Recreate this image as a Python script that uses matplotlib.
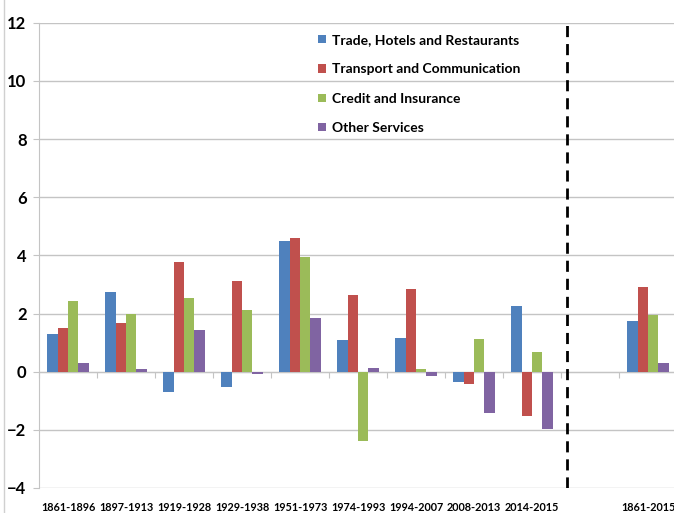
import numpy as np
import matplotlib
matplotlib.use('Agg')
import matplotlib.pyplot as plt
from matplotlib.lines import Line2D

plt.rcParams['font.family'] = ['Lato', 'DejaVu Sans']
plt.rcParams['font.weight'] = 'bold'

# periods (empty slot before the whole-period group)
periods = ['1861-1896', '1897-1913', '1919-1928', '1929-1938', '1951-1973',
           '1974-1993', '1994-2007', '2008-2013', '2014-2015', '', '1861-2015']
nan = np.nan
trade = [1.28, 2.73, -0.70, -0.53, 4.50, 1.10, 1.17, -0.35, 2.26, nan, 1.74]
transport = [1.49, 1.67, 3.76, 3.13, 4.60, 2.63, 2.86, -0.42, -1.52, nan, 2.91]
credit = [2.42, 1.98, 2.53, 2.11, 3.94, -2.37, 0.10, 1.13, 0.69, nan, 1.95]
other = [0.30, 0.08, 1.42, -0.09, 1.86, 0.11, -0.16, -1.41, -1.97, nan, 0.31]

series = [trade, transport, credit, other]
names = ['Trade, Hotels and Restaurants', 'Transport and Communication',
         'Credit and Insurance', 'Other Services']
colors = ['#4F81BD', '#C0504D', '#9BBB59', '#8064A2']

W, H = 674, 513
fig = plt.figure(figsize=(W / 100, H / 100), dpi=100)
ax = fig.add_axes([39 / W, 25 / H, 635 / W, 465.3 / H])

x = np.arange(len(periods))
bw = 0.18
for i, (vals, nm, c) in enumerate(zip(series, names, colors)):
    ax.bar(x + (i - 1.5) * bw, vals, bw, color=c, label=nm, zorder=3)

ymin, ymax = -4, 12
ax.set_ylim(ymin, ymax)
ax.set_xlim(-0.5, -0.5 + 635 / 58)
ax.set_yticks(np.arange(ymin, ymax + 1, 2))
ax.grid(axis='y', color='#c4c4c4', lw=1, zorder=0)
ax.tick_params(axis='y', length=4, color='#c4c4c4', labelsize=12, pad=5)
for s in ['top', 'right', 'bottom']:
    ax.spines[s].set_visible(False)
ax.spines['left'].set_color('#c4c4c4')

ax.set_xticks(x)
ax.set_xticklabels(periods, fontsize=7.8)
ax.tick_params(axis='x', length=0, pad=10)

# zero line with category boundary ticks
zax = ax.secondary_xaxis((0 - ymin) / (ymax - ymin))
zax.set_xticks(np.arange(len(periods) + 1) - 0.5)
zax.set_xticklabels([])
zax.tick_params(length=4, color='#c4c4c4')
zax.spines['bottom'].set_color('#c4c4c4')

# separator before full-period average
ax.vlines(8.6, ymin, ymax, colors='black', linestyles=(0, (4, 2.5)), lw=2, zorder=4)

ax.legend(loc='upper left', bbox_to_anchor=(318 / W, 1 - 34 / H),
          bbox_transform=fig.transFigure, frameon=False, fontsize=10,
          handlelength=0.55, handleheight=0.55, handletextpad=0.45,
          labelspacing=1.25, borderpad=0, borderaxespad=0)

fig.add_artist(Line2D([4 / W, 4 / W], [0, 1], color='#d0d0d0', lw=1))

fig.savefig('out.png', dpi=100)
